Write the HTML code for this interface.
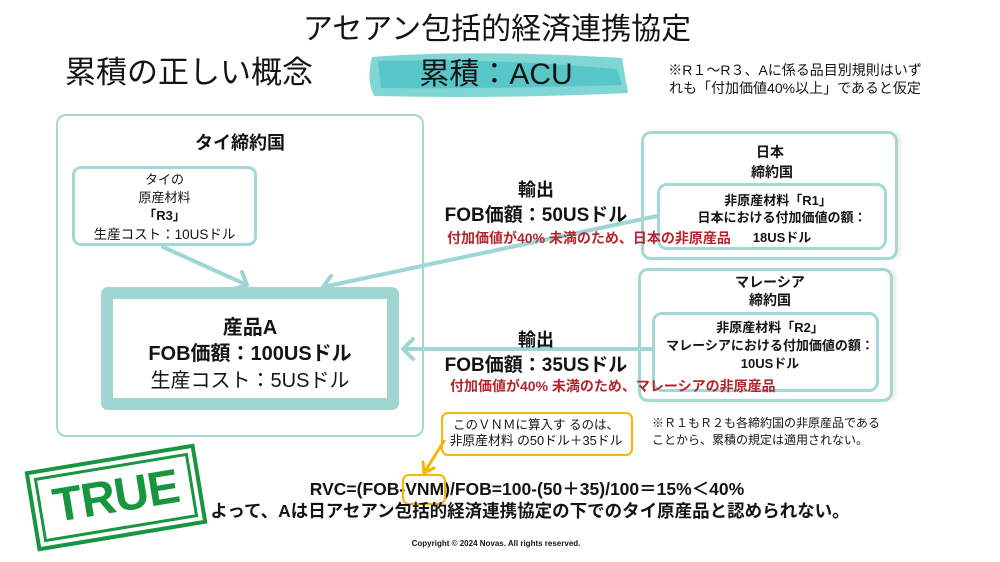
<!DOCTYPE html>
<html><head><meta charset="utf-8">
<style>
html,body{margin:0;padding:0;background:#fff;}
#pg{position:relative;width:1000px;height:562px;overflow:hidden;background:#fff;
font-family:"Liberation Sans","Noto Sans CJK JP",sans-serif;color:#141414;}
.t{position:absolute;white-space:nowrap;text-align:center;z-index:2;}
.l{position:absolute;white-space:nowrap;text-align:left;z-index:2;}
.b{font-weight:bold;}
.box{position:absolute;box-sizing:border-box;border:3px solid #a3d8d5;border-radius:10px;background:transparent;z-index:1;}
.red{color:#b3262d;font-weight:bold;}
.vnm{position:relative;}
.vnm i{position:absolute;left:-3px;right:-2px;top:-5px;bottom:-6px;border:2.5px solid #f7b500;border-radius:7px;}
</style></head><body><div id="pg">

<svg width="1000" height="562" style="position:absolute;left:0;top:0" xmlns="http://www.w3.org/2000/svg">
  <!-- brush -->
  <path d="M372,57 Q470,49 622,58 L628,93 Q500,99 374,96 Q366,80 372,57 Z" fill="#80d5d5"/>
  <path d="M378,61 Q500,58 617,69 L622,85 Q500,89 381,88 Z" fill="#57c6c8"/>
  <!-- connectors -->
  <g stroke="#9dd6d3" stroke-width="4" fill="none" stroke-linecap="round" stroke-linejoin="round">
    <line x1="163" y1="247" x2="247" y2="285"/>
    <polyline points="242,272 247,285 234,289"/>
    <line x1="657" y1="216" x2="323" y2="287"/>
    <polyline points="331,276 323,287 334,293"/>
    <line x1="652" y1="349" x2="403" y2="349"/>
    <polyline points="413,339 403,349 413,359"/>
  </g>
  <!-- orange arrow -->
  <g stroke="#f7b500" stroke-width="3" fill="none" stroke-linecap="round" stroke-linejoin="round">
    <line x1="444" y1="441" x2="424" y2="473"/>
    <polyline points="423,462 424,473 434,468"/>
  </g>
</svg>

<!-- header -->
<div class="t" style="left:247px;width:500px;top:14px;line-height:32px;font-size:30px;">アセアン包括的経済連携協定</div>
<div class="t" style="left:39px;width:300px;top:57px;line-height:32px;font-size:31px;">累積の正しい概念</div>
<div class="t" style="left:396px;width:200px;top:59px;line-height:32px;font-size:30px;">累積：ACU</div>
<div class="t" style="left:655px;width:280px;top:62px;line-height:16px;font-size:14px;">※R１〜R３、Aに係る品目別規則はいず</div>
<div class="t" style="left:655px;width:280px;top:80px;line-height:16px;font-size:14px;">れも「付加価値40%以上」であると仮定</div>

<!-- Thai box -->
<div class="box" style="left:56px;top:114px;width:368px;height:323px;border-width:2.5px;"></div>
<div class="t b" style="left:140px;width:200px;top:133px;line-height:20px;font-size:18px;">タイ締約国</div>
<div class="box" style="left:72px;top:166px;width:185px;height:80px;border-radius:9px;"></div>
<div class="t" style="left:72px;width:185px;top:172px;line-height:16px;font-size:13px;">タイの</div>
<div class="t" style="left:72px;width:185px;top:190px;line-height:16px;font-size:13px;">原産材料</div>
<div class="t b" style="left:72px;width:185px;top:208px;line-height:16px;font-size:13px;">「R3」</div>
<div class="t" style="left:72px;width:185px;top:227px;line-height:16px;font-size:13.5px;">生産コスト：10USドル</div>

<div class="box" style="left:101px;top:287px;width:298px;height:123px;border-width:12px;border-color:#9fd6d2;border-radius:7px;"></div>
<div class="t b" style="left:101px;width:298px;top:317px;line-height:22px;font-size:20px;">産品A</div>
<div class="t b" style="left:101px;width:298px;top:343px;line-height:22px;font-size:20px;">FOB価額：100USドル</div>
<div class="t" style="left:101px;width:298px;top:370px;line-height:22px;font-size:20px;">生産コスト：5USドル</div>

<!-- middle labels -->
<div class="t b" style="left:436px;width:200px;top:180px;line-height:20px;font-size:18px;">輸出</div>
<div class="t b" style="left:436px;width:200px;top:205px;line-height:22px;font-size:19px;">FOB価額：50USドル</div>
<div class="l red" style="left:447px;top:230px;line-height:16px;font-size:14px;">付加価値が40% 未満のため、日本の非原産品</div>

<div class="t b" style="left:436px;width:200px;top:330px;line-height:20px;font-size:18px;">輸出</div>
<div class="t b" style="left:436px;width:200px;top:355px;line-height:22px;font-size:19px;">FOB価額：35USドル</div>
<div class="l red" style="left:450px;top:378px;line-height:16px;font-size:14px;">付加価値が40% 未満のため、マレーシアの非原産品</div>

<!-- Japan -->
<div class="box" style="left:641px;top:131px;width:257px;height:129px;box-shadow:4px 0 4px -1px rgba(215,195,160,0.35);"></div>
<div class="t b" style="left:670px;width:200px;top:144px;line-height:16px;font-size:14px;">日本</div>
<div class="t b" style="left:672px;width:200px;top:164px;line-height:16px;font-size:14px;">締約国</div>
<div class="box" style="left:657px;top:183px;width:230px;height:67px;"></div>
<div class="t b" style="left:678px;width:200px;top:193px;line-height:16px;font-size:13px;">非原産材料「R1」</div>
<div class="t b" style="left:682px;width:200px;top:210px;line-height:16px;font-size:13px;">日本における付加価値の額：</div>
<div class="t b" style="left:682px;width:200px;top:230px;line-height:16px;font-size:13px;">18USドル</div>

<!-- Malaysia -->
<div class="box" style="left:638px;top:268px;width:255px;height:134px;box-shadow:4px 0 4px -1px rgba(215,195,160,0.35);"></div>
<div class="t b" style="left:670px;width:200px;top:274px;line-height:16px;font-size:14px;">マレーシア</div>
<div class="t b" style="left:670px;width:200px;top:292px;line-height:16px;font-size:14px;">締約国</div>
<div class="box" style="left:652px;top:312px;width:227px;height:80px;"></div>
<div class="t b" style="left:670px;width:200px;top:320px;line-height:16px;font-size:13px;">非原産材料「R2」</div>
<div class="t b" style="left:650px;width:240px;top:338px;line-height:16px;font-size:13px;">マレーシアにおける付加価値の額：</div>
<div class="t b" style="left:670px;width:200px;top:356px;line-height:16px;font-size:13px;">10USドル</div>

<!-- orange note -->
<div class="box" style="left:441px;top:412px;width:192px;height:44px;border:2.5px solid #f7b500;border-radius:7px;"></div>
<div class="t" style="left:436px;width:200px;top:417px;line-height:16px;font-size:12.5px;">このＶＮＭに算入す るのは、</div>
<div class="t" style="left:436px;width:200px;top:433px;line-height:16px;font-size:12.8px;">非原産材料 の50ドル＋35ドル</div>

<div class="l" style="left:652px;top:415px;line-height:16px;font-size:12px;">※Ｒ１もＲ２も各締約国の非原産品である</div>
<div class="l" style="left:652px;top:432px;line-height:16px;font-size:12px;">ことから、累積の規定は適用されない。</div>

<!-- bottom -->
<div class="t b" style="left:277px;width:500px;top:479px;line-height:20px;font-size:17.5px;">RVC=(FOB-<span class="vnm">VNM<i></i></span>)/FOB=100-(50＋35)/100＝15%＜40%</div>
<div class="t b" style="left:180px;width:700px;top:501px;line-height:20px;font-size:17.5px;">よって、Aは日アセアン包括的経済連携協定の下でのタイ原産品と認められない。</div>
<div class="t b" style="left:346px;width:300px;top:539px;line-height:10px;font-size:8px;">Copyright © 2024 Novas. All rights reserved.</div>

<!-- stamp -->
<div style="position:absolute;left:30px;top:457px;width:172px;height:81px;transform:rotate(-9.4deg);transform-origin:86px 40.5px;box-sizing:border-box;border:4.5px solid #17953f;">
  <div style="position:absolute;left:4px;top:4px;right:4px;bottom:4px;border:3px solid #17953f;"></div>
  <div style="position:absolute;left:0;top:0;width:100%;height:100%;text-align:center;line-height:72px;font-family:'Liberation Sans',sans-serif;font-weight:bold;font-size:48px;color:#17953f;letter-spacing:-1px;">TRUE</div>
</div>

</div></body></html>
